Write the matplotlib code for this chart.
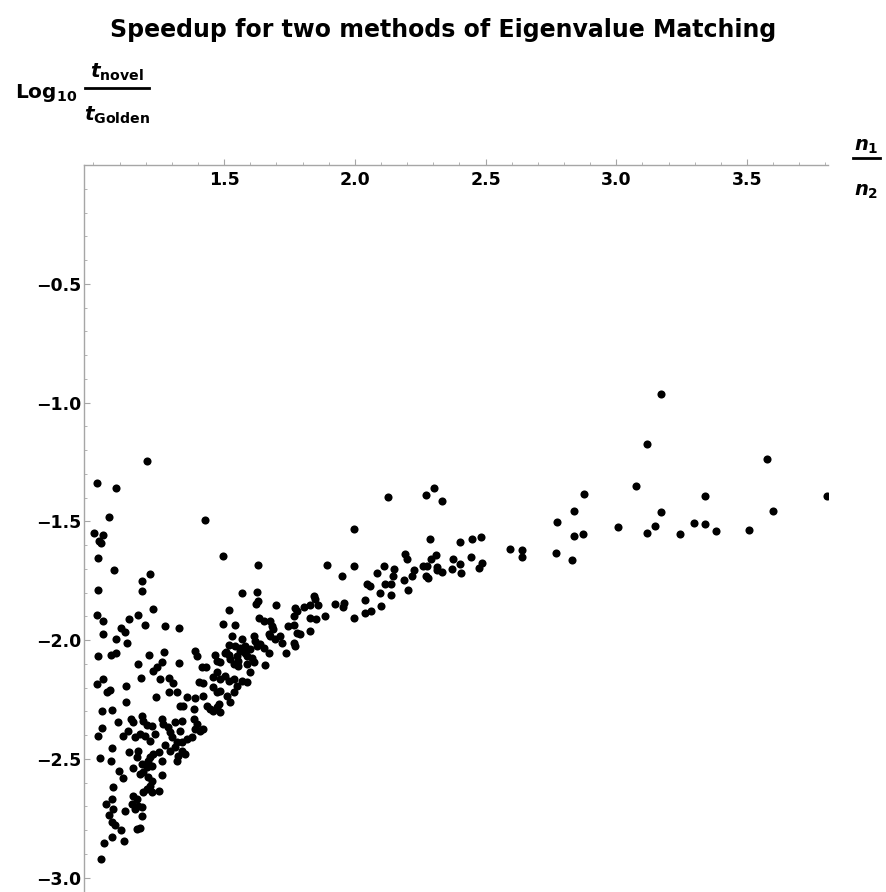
import numpy as np
import matplotlib
matplotlib.use("Agg")
from matplotlib import pyplot as plt
from matplotlib.lines import Line2D
from matplotlib.ticker import MultipleLocator, FixedLocator

# n1/n2 ratio and log10(t_novel / t_Golden)
x_ratio = [
    1.060, 1.002, 1.038, 1.023, 1.028, 1.425, 1.019, 1.079, 1.497, 1.628,
    1.218, 1.185, 1.184, 1.019, 1.567, 1.627, 1.623, 1.229, 1.520, 1.015,
    1.038, 1.138, 1.170, 1.197, 1.275, 1.329, 1.107, 1.120, 1.038, 1.085,
    1.128, 1.497, 1.541, 1.632, 1.530, 1.613, 1.520, 1.567, 1.581, 1.018,
    1.066, 1.087, 1.213, 1.269, 1.171, 1.262, 1.329, 1.387, 1.397, 1.465,
    1.229, 1.243, 1.181, 1.255, 1.289, 1.304, 1.416, 1.431, 1.472, 1.485,
    1.504, 1.517, 1.549, 1.559, 1.587, 1.536, 1.555, 1.587, 1.600, 1.472,
    1.459, 1.485, 1.504, 1.517, 1.536, 1.549, 1.568, 1.587, 1.013, 1.038,
    1.124, 1.053, 1.064, 1.402, 1.421, 1.289, 1.319, 1.240, 1.357, 1.389,
    1.459, 1.472, 1.485, 1.511, 1.536,
    1.124, 1.344, 1.332, 1.383, 1.419, 1.434, 1.447, 1.459, 1.472, 1.485,
    1.479, 1.523, 1.032, 1.070, 1.095, 1.143, 1.153, 1.185, 1.191, 1.204,
    1.223, 1.262, 1.268, 1.287, 1.313, 1.338, 1.383, 1.396, 1.032, 1.019,
    1.115, 1.134, 1.159, 1.179, 1.198, 1.217, 1.236, 1.293, 1.300, 1.332,
    1.319, 1.338, 1.357, 1.377, 1.389, 1.408, 1.421, 1.070, 1.025, 1.066,
    1.138, 1.172, 1.166, 1.217, 1.229, 1.249, 1.262, 1.210, 1.274, 1.293,
    1.313, 1.325, 1.319, 1.351, 1.338, 1.153, 1.185, 1.204, 1.223, 1.191,
    1.179, 1.099, 1.112, 1.262, 1.210, 1.223, 1.217, 1.204, 1.074, 1.191,
    1.223, 1.249, 1.153, 1.166, 1.147, 1.172, 1.159, 1.185, 1.070, 1.048,
    1.076, 1.121, 1.185, 1.061, 1.070, 1.083, 1.105, 1.166, 1.179, 1.070,
    1.041, 1.118, 1.029,
    1.013, 1.087, 1.205,
    1.894, 1.998, 2.126, 1.998, 1.950, 2.190, 2.200, 2.083, 2.111, 2.149,
    2.147, 2.226, 2.220, 2.187, 2.047, 2.057, 2.117, 2.139, 2.098, 2.139,
    2.204, 1.629, 1.697, 1.843, 1.849, 1.830, 1.859, 1.926, 1.960, 1.955,
    2.037, 1.772, 1.779, 1.804, 1.766, 1.830, 1.853, 1.884, 1.998, 2.037,
    2.062, 2.099, 1.651, 1.677, 1.683, 1.687, 1.743, 1.766, 1.779, 1.792,
    1.830, 1.670, 1.677, 1.715, 1.721, 1.696, 1.619, 1.638, 1.651, 1.766,
    1.772, 1.738, 1.543, 1.562, 1.508, 1.581, 1.600, 1.626, 1.670, 1.523,
    1.555, 1.607, 1.613, 1.657,
    3.116, 2.301, 2.274, 2.333, 3.076, 2.877, 2.838, 2.775, 3.005, 2.871,
    2.838, 3.117, 2.287, 2.401, 2.449, 2.484, 2.592, 2.639, 2.639, 2.771,
    2.830, 2.309, 2.292, 2.375, 2.401, 2.444, 2.488, 2.475, 2.262, 2.277,
    2.315, 2.313, 2.334, 2.373, 2.406, 2.274, 2.281,
    3.172, 3.578, 3.339, 3.807, 3.172, 3.599, 3.147, 3.245, 3.297, 3.339,
    3.382, 3.507,
]
log_speedup = [
    -1.483, -1.550, -1.559, -1.583, -1.592, -1.496, -1.653, -1.703, -1.647, -1.684,
    -1.721, -1.749, -1.793, -1.789, -1.803, -1.798, -1.849, -1.868, -1.871, -1.895,
    -1.920, -1.909, -1.896, -1.937, -1.940, -1.950, -1.947, -1.965, -1.974, -1.997,
    -2.013, -1.933, -1.937, -1.908, -1.982, -1.984, -2.020, -1.996, -2.024, -2.066,
    -2.062, -2.056, -2.062, -2.049, -2.100, -2.094, -2.097, -2.047, -2.067, -2.063,
    -2.130, -2.112, -2.161, -2.163, -2.160, -2.182, -2.112, -2.112, -2.088, -2.094,
    -2.055, -2.062, -2.066, -2.045, -2.066, -2.101, -2.108, -2.101, -2.133, -2.136,
    -2.157, -2.164, -2.150, -2.171, -2.164, -2.192, -2.171, -2.178, -2.186, -2.164,
    -2.192, -2.220, -2.209, -2.175, -2.182, -2.220, -2.220, -2.239, -2.239, -2.244,
    -2.199, -2.220, -2.213, -2.234, -2.220,
    -2.262, -2.276, -2.279, -2.290, -2.237, -2.276, -2.290, -2.297, -2.283, -2.304,
    -2.269, -2.262, -2.298, -2.293, -2.346, -2.332, -2.346, -2.318, -2.339, -2.357,
    -2.360, -2.332, -2.353, -2.367, -2.346, -2.339, -2.332, -2.353, -2.371, -2.402,
    -2.402, -2.381, -2.409, -2.395, -2.402, -2.423, -2.395, -2.388, -2.409, -2.381,
    -2.430, -2.430, -2.416, -2.409, -2.374, -2.381, -2.374, -2.455, -2.496, -2.507,
    -2.472, -2.465, -2.493, -2.493, -2.479, -2.472, -2.507, -2.507, -2.441, -2.465,
    -2.451, -2.486, -2.507, -2.479, -2.465, -2.539, -2.521, -2.535, -2.528, -2.556,
    -2.563, -2.549, -2.581, -2.567, -2.577, -2.591, -2.612, -2.626, -2.619, -2.640,
    -2.640, -2.636, -2.654, -2.668, -2.689, -2.696, -2.710, -2.703, -2.668, -2.689,
    -2.710, -2.721, -2.741, -2.738, -2.766, -2.780, -2.801, -2.794, -2.791, -2.829,
    -2.854, -2.846, -2.920,
    -1.337, -1.360, -1.244,
    -1.685, -1.534, -1.396, -1.689, -1.732, -1.639, -1.657, -1.716, -1.688, -1.699,
    -1.730, -1.706, -1.730, -1.748, -1.765, -1.772, -1.765, -1.765, -1.800, -1.808,
    -1.787, -1.835, -1.853, -1.816, -1.828, -1.853, -1.853, -1.846, -1.845, -1.860,
    -1.831, -1.866, -1.879, -1.860, -1.898, -1.905, -1.909, -1.898, -1.908, -1.884,
    -1.877, -1.858, -1.919, -1.919, -1.940, -1.954, -1.940, -1.937, -1.968, -1.975,
    -1.963, -1.975, -1.982, -1.982, -2.010, -1.996, -2.003, -2.017, -2.031, -2.010,
    -2.024, -2.052, -2.024, -2.031, -2.049, -2.052, -2.038, -2.024, -2.052, -2.080,
    -2.087, -2.073, -2.094, -2.104,
    -1.175, -1.358, -1.390, -1.416, -1.352, -1.385, -1.455, -1.503, -1.525, -1.553,
    -1.562, -1.549, -1.574, -1.585, -1.573, -1.566, -1.615, -1.621, -1.648, -1.633,
    -1.661, -1.640, -1.660, -1.657, -1.678, -1.648, -1.675, -1.697, -1.689, -1.688,
    -1.690, -1.705, -1.713, -1.699, -1.717, -1.730, -1.738,
    -0.965, -1.239, -1.395, -1.394, -1.459, -1.455, -1.518, -1.553, -1.507, -1.511,
    -1.539, -1.535,
]

x_major = [1.5, 2.0, 2.5, 3.0, 3.5]
y_major = [-3.0, -2.5, -2.0, -1.5, -1.0, -0.5]

W, H = 887, 892
plt.rcParams['font.family'] = ['DejaVu Sans']
plt.rcParams['font.weight'] = 'bold'
plt.rcParams['mathtext.fontset'] = 'custom'
plt.rcParams['mathtext.rm'] = 'DejaVu Sans:bold'
plt.rcParams['mathtext.it'] = 'DejaVu Sans:italic:bold'
plt.rcParams['mathtext.bf'] = 'DejaVu Sans:bold'

fig = plt.figure(figsize=(W / 100, H / 100), dpi=100)
ax = fig.add_axes([84 / W, 0.0, 744 / W, 1 - 165 / H])

ax.scatter(x_ratio, log_speedup, s=34, c='black', linewidths=0, zorder=3)

ax.set_xlim(0.964, 3.81)
ax.set_ylim(-3.06, 0.0)

axis_grey = '#a6a6a6'
for side in ['top', 'right']:
    ax.spines[side].set_visible(False)
ax.spines['bottom'].set_position(('data', 0.0))
ax.spines['bottom'].set_color(axis_grey)
ax.spines['left'].set_color(axis_grey)
ax.spines['bottom'].set_linewidth(1.0)
ax.spines['left'].set_linewidth(1.0)

ax.xaxis.set_major_locator(FixedLocator(x_major))
ax.xaxis.set_minor_locator(MultipleLocator(0.1))
ax.yaxis.set_major_locator(FixedLocator(y_major))
ax.yaxis.set_minor_locator(MultipleLocator(0.1))
ax.set_xticklabels(['%.1f' % v for v in x_major])
ax.set_yticklabels(['\u2212%.1f' % abs(v) for v in y_major])

ax.tick_params(axis='x', which='major', direction='in', length=4, width=0.8,
               color=axis_grey, labelsize=12.5, pad=4)
ax.tick_params(axis='x', which='minor', direction='in', length=2.5, width=0.6,
               color=axis_grey)
ax.tick_params(axis='y', which='major', direction='in', length=4, width=0.8,
               color=axis_grey, labelsize=12.5, pad=2)
ax.tick_params(axis='y', which='minor', direction='in', length=2.5, width=0.6,
               color=axis_grey)
for lab in ax.get_xticklabels() + ax.get_yticklabels():
    lab.set_fontweight('bold')


def fx(px):
    return px / W


def fy(py):
    return 1 - py / H


fig.text(0.5, fy(30), 'Speedup for two methods of Eigenvalue Matching',
         ha='center', va='center', fontsize=17, fontweight='bold')

# y axis label:  Log10 t_novel / t_Golden
fig.text(fx(15), fy(98), r'$\mathrm{Log}_{10}$', ha='left', va='baseline', fontsize=14.5)
fig.text(fx(117), fy(78), r'$t_{\mathrm{novel}}$', ha='center', va='baseline', fontsize=14.5)
fig.text(fx(117), fy(121), r'$t_{\mathrm{Golden}}$', ha='center', va='baseline', fontsize=14.5)
fig.add_artist(Line2D([fx(85), fx(149)], [fy(87.5), fy(87.5)], color='black',
                      linewidth=2.0, transform=fig.transFigure))

# x axis label:  n1 / n2
fig.text(fx(866), fy(151), r'$n_{1}$', ha='center', va='baseline', fontsize=14)
fig.text(fx(866), fy(196), r'$n_{2}$', ha='center', va='baseline', fontsize=14)
fig.add_artist(Line2D([fx(853), fx(880)], [fy(157.5), fy(157.5)], color='black',
                      linewidth=2.0, transform=fig.transFigure))

fig.savefig('out.png', dpi=100)
